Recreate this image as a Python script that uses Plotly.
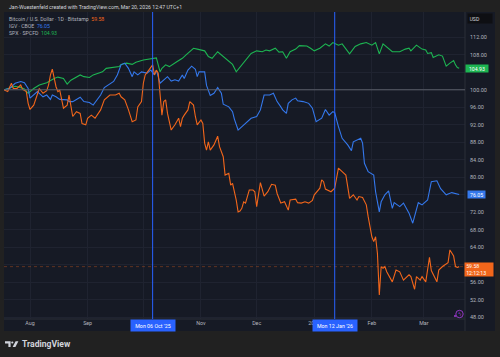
import plotly.graph_objects as go

# ---------------- data (indexed to 100 at first bar) ----------------
btc_dates = ["2025-07-18","2025-07-20","2025-07-22","2025-07-23","2025-07-25","2025-07-27","2025-07-28","2025-07-30","2025-07-31",
 "2025-08-01","2025-08-03","2025-08-05","2025-08-06","2025-08-08","2025-08-10","2025-08-11","2025-08-12","2025-08-13","2025-08-14",
 "2025-08-15","2025-08-16","2025-08-17","2025-08-19","2025-08-21","2025-08-22","2025-08-23","2025-08-24","2025-08-26","2025-08-28",
 "2025-08-29","2025-08-31","2025-09-01","2025-09-03","2025-09-05","2025-09-07","2025-09-08","2025-09-10","2025-09-13","2025-09-16",
 "2025-09-18","2025-09-19","2025-09-21","2025-09-23","2025-09-25","2025-09-27","2025-09-28","2025-09-30","2025-10-01","2025-10-02",
 "2025-10-04","2025-10-05","2025-10-06","2025-10-07","2025-10-08","2025-10-09","2025-10-10","2025-10-11","2025-10-12","2025-10-13",
 "2025-10-14","2025-10-16","2025-10-18","2025-10-20","2025-10-21","2025-10-22","2025-10-23","2025-10-25","2025-10-26","2025-10-28",
 "2025-10-29","2025-10-30","2025-11-01","2025-11-02","2025-11-03","2025-11-04","2025-11-05","2025-11-06","2025-11-08","2025-11-10",
 "2025-11-11","2025-11-13","2025-11-14","2025-11-16","2025-11-17","2025-11-18","2025-11-20","2025-11-21","2025-11-22","2025-11-23",
 "2025-11-24","2025-11-25","2025-11-27","2025-11-29","2025-11-30","2025-12-01","2025-12-03","2025-12-05","2025-12-07","2025-12-09",
 "2025-12-11","2025-12-12","2025-12-14","2025-12-16","2025-12-18","2025-12-19","2025-12-22","2025-12-23","2025-12-25","2025-12-27",
 "2025-12-29","2025-12-31","2026-01-01","2026-01-04","2026-01-05","2026-01-06","2026-01-07","2026-01-10","2026-01-12","2026-01-13",
 "2026-01-14","2026-01-16","2026-01-18","2026-01-20","2026-01-22","2026-01-24","2026-01-25","2026-01-27","2026-01-29","2026-01-30",
 "2026-02-01","2026-02-02","2026-02-03","2026-02-04","2026-02-05","2026-02-06","2026-02-07","2026-02-08","2026-02-09","2026-02-12",
 "2026-02-13","2026-02-14","2026-02-16","2026-02-18","2026-02-21","2026-02-22","2026-02-24","2026-02-25","2026-02-27","2026-02-28",
 "2026-03-02","2026-03-03","2026-03-04","2026-03-05","2026-03-08","2026-03-09","2026-03-11","2026-03-14","2026-03-15","2026-03-17",
 "2026-03-18","2026-03-19","2026-03-20"]
btc_vals = [100.0,99.6,101.5,100.3,100.3,101.1,100.1,99.6,96.9,
 95.5,96.5,99.2,100.3,99.2,99.8,101.1,103.4,104.7,102.6,
 100.7,99.6,99.9,95.8,96.5,98.8,96.1,93.9,95.0,94.6,
 92.3,92.0,93.5,94.2,93.5,94.6,95.4,97.7,98.8,98.8,
 99.2,98.4,97.7,95.4,92.7,93.1,96.1,97.3,101.5,103.4,
 104.5,104.9,105.7,103.4,104.5,103.8,98.8,94.2,97.3,97.7,
 94.6,90.8,92.0,93.5,91.6,93.5,94.2,95.4,97.3,96.5,
 93.9,92.0,93.1,92.3,87.8,86.2,88.1,86.2,87.4,89.4,
 87.0,84.7,80.5,80.9,78.2,78.6,74.8,72.1,72.3,72.9,
 74.4,74.1,77.1,77.1,76.7,73.3,78.8,75.7,76.7,78.4,
 78.2,76.3,74.1,74.4,72.5,74.8,75.0,74.2,74.1,74.4,
 74.1,74.7,76.0,77.5,79.4,79.0,77.3,76.7,77.5,80.1,
 82.1,81.3,80.5,75.2,76.0,74.8,75.6,75.4,73.7,71.0,
 66.4,65.3,66.4,62.6,53.1,59.6,59.2,59.6,58.4,56.1,
 57.7,58.8,58.4,56.5,57.7,57.3,54.4,57.3,56.5,57.3,
 56.1,58.8,61.7,58.7,56.1,58.8,59.6,60.5,63.4,62.0,
 59.6,59.4,59.58]

igv_dates = ["2025-07-18","2025-07-21","2025-07-24","2025-07-27","2025-07-29","2025-07-31","2025-08-01","2025-08-03","2025-08-05",
 "2025-08-06","2025-08-08","2025-08-10","2025-08-12","2025-08-13","2025-08-15","2025-08-17","2025-08-19","2025-08-21","2025-08-22",
 "2025-08-24","2025-08-26","2025-08-28","2025-08-30","2025-09-02","2025-09-04","2025-09-06","2025-09-08","2025-09-10","2025-09-12",
 "2025-09-15","2025-09-17","2025-09-19","2025-09-21","2025-09-23","2025-09-25","2025-09-26","2025-09-28","2025-09-30","2025-10-03",
 "2025-10-05","2025-10-07","2025-10-08","2025-10-10","2025-10-12","2025-10-14","2025-10-16","2025-10-18","2025-10-20","2025-10-22",
 "2025-10-23","2025-10-25","2025-10-27","2025-10-29","2025-10-30","2025-10-31","2025-11-03","2025-11-04","2025-11-06","2025-11-08",
 "2025-11-10","2025-11-12","2025-11-13","2025-11-16","2025-11-18","2025-11-19","2025-11-21","2025-11-23","2025-11-26","2025-11-28",
 "2025-12-01","2025-12-03","2025-12-05","2025-12-08","2025-12-10","2025-12-12","2025-12-14","2025-12-15","2025-12-17","2025-12-18",
 "2025-12-20","2025-12-22","2025-12-23","2025-12-26","2025-12-29","2025-12-31","2026-01-02","2026-01-05","2026-01-07","2026-01-09",
 "2026-01-11","2026-01-12","2026-01-14","2026-01-16","2026-01-19","2026-01-21","2026-01-22","2026-01-26","2026-01-27","2026-01-28",
 "2026-01-30","2026-02-02","2026-02-03","2026-02-05","2026-02-06","2026-02-08","2026-02-10","2026-02-12","2026-02-13","2026-02-16",
 "2026-02-18","2026-02-21","2026-02-23","2026-02-26","2026-02-28","2026-03-03","2026-03-05","2026-03-08","2026-03-10","2026-03-13",
 "2026-03-16","2026-03-18","2026-03-20"]
igv_vals = [100.0,100.3,101.5,101.9,101.6,100.3,98.1,98.8,99.6,
 99.2,98.4,98.8,97.8,98.8,98.4,97.8,97.7,97.7,97.3,
 97.3,97.8,98.3,97.3,97.1,96.5,97.7,98.8,100.5,101.1,
 101.9,103.4,105.7,106.1,104.9,103.0,104.1,103.4,104.1,103.8,
 104.5,103.4,104.5,101.5,102.2,103.0,102.0,102.3,102.0,103.4,
 102.6,104.5,105.4,104.7,103.0,104.1,104.1,101.0,98.7,99.2,
 100.5,99.2,96.7,96.1,95.0,93.3,90.8,91.6,92.7,93.5,
 93.9,95.4,98.8,98.8,99.2,97.3,96.1,95.4,94.6,96.9,
 97.7,98.1,97.5,97.3,96.9,95.8,92.7,93.5,95.5,94.2,
 95.0,94.8,91.6,88.9,87.4,86.1,88.1,88.9,87.8,83.2,
 81.3,80.5,76.7,72.1,74.4,76.0,76.9,72.9,74.2,73.3,
 74.1,71.8,69.5,74.2,73.7,74.8,79.0,79.2,77.4,76.0,
 76.5,76.2,76.05]

spx_dates = ["2025-07-18","2025-07-20","2025-07-22","2025-07-24","2025-07-27","2025-07-29","2025-07-31","2025-08-03","2025-08-06",
 "2025-08-10","2025-08-14","2025-08-16","2025-08-19","2025-08-21","2025-08-23","2025-08-28","2025-08-30","2025-09-02","2025-09-04",
 "2025-09-09","2025-09-11","2025-09-15","2025-09-18","2025-09-19","2025-09-22","2025-09-25","2025-09-27","2025-10-01","2025-10-05",
 "2025-10-08","2025-10-10","2025-10-11","2025-10-13","2025-10-15","2025-10-19","2025-10-22","2025-10-24","2025-10-28","2025-10-30",
 "2025-11-03","2025-11-05","2025-11-07","2025-11-10","2025-11-13","2025-11-16","2025-11-18","2025-11-20","2025-11-23","2025-11-26",
 "2025-11-28","2025-12-01","2025-12-04","2025-12-06","2025-12-08","2025-12-11","2025-12-13","2025-12-15","2025-12-17","2025-12-19",
 "2025-12-22","2025-12-24","2025-12-28","2025-12-30","2026-01-01","2026-01-04","2026-01-07","2026-01-09","2026-01-11","2026-01-14",
 "2026-01-16","2026-01-20","2026-01-23","2026-01-26","2026-01-29","2026-02-01","2026-02-03","2026-02-05","2026-02-07","2026-02-12",
 "2026-02-16","2026-02-19","2026-02-21","2026-02-22","2026-02-25","2026-02-28","2026-03-02","2026-03-03","2026-03-05","2026-03-06",
 "2026-03-09","2026-03-11","2026-03-13","2026-03-15","2026-03-17","2026-03-18","2026-03-19","2026-03-20"]
spx_vals = [100.0,100.3,100.6,100.8,100.5,100.2,99.2,100.3,101.1,
 101.6,102.6,102.9,102.6,101.3,102.2,103.4,103.0,102.8,103.4,
 104.1,104.9,105.1,105.3,105.8,106.1,105.8,106.3,106.8,107.0,
 107.3,104.1,104.9,105.7,105.3,106.4,107.2,108.0,109.5,109.3,
 108.9,107.6,107.2,108.7,107.6,106.4,105.8,104.1,105.7,107.2,
 108.3,108.9,108.7,109.1,108.9,109.5,108.6,108.7,107.2,108.7,
 109.3,110.1,110.0,109.5,108.9,109.5,110.5,110.0,110.8,110.2,
 110.5,108.2,109.9,110.5,110.8,110.2,110.8,108.2,110.5,108.7,
 108.7,109.3,109.5,108.9,110.2,109.3,109.1,108.3,108.5,107.4,
 108.0,107.7,105.4,106.1,106.7,105.7,105.1,104.93]

series_names = ["Bitcoin / U.S. Dollar · 1D · Bitstamp", "IGV · CBOE", "SPX · SPCFD"]
price_ticks = [48, 52, 56, 60, 64, 68, 72, 76, 80, 84, 88, 92, 96, 100, 104, 108, 112]
price_tick_labels = ["48.00", "52.00", "56.00", "", "64.00", "68.00", "72.00", "", "80.00", "84.00", "88.00",
                     "92.00", "96.00", "100.00", "", "108.00", "112.00"]
month_ticks = ["2025-08-01","2025-09-01","2025-10-01","2025-11-01","2025-12-01","2026-01-01","2026-02-01","2026-03-01"]
month_labels = ["Aug","Sep","","Nov","Dec","2026","Feb","Mar"]
marker_dates = ["2025-10-06", "2026-01-12"]
marker_labels = ["Mon 06 Oct '25", "Mon 12 Jan '26"]
btc_countdown = "12:12:13"
header_text = "Jan-Wuestenfeld created with TradingView.com, Mar 20, 2026 12:47 UTC+1"

# ---------------- style ----------------
ORANGE = "#F2661B"
BLUE = "#3478EC"
GREEN = "#1DB552"
PANEL = "#161A25"
OUTER = "#212121"
GRID = "#1F2330"
TXT = "#B2B5BE"
FONT = "Roboto"

W, H = 500, 357
ML, MR, MT, MB = 4, 35, 12, 38
PW = W - ML - MR
PH = H - MT - MB

def px(x):
    return (x - ML) / PW

def py(y):
    return (H - MB - y) / PH

fig = go.Figure()
fig.add_trace(go.Scatter(x=spx_dates, y=spx_vals, mode="lines", line=dict(color=GREEN, width=1.1), hoverinfo="skip"))
fig.add_trace(go.Scatter(x=igv_dates, y=igv_vals, mode="lines", line=dict(color=BLUE, width=1.1), hoverinfo="skip"))
fig.add_trace(go.Scatter(x=btc_dates, y=btc_vals, mode="lines", line=dict(color=ORANGE, width=1.1), hoverinfo="skip"))

shapes = []
shapes.append(dict(type="rect", xref="paper", yref="paper", x0=px(4), x1=px(495), y0=py(331), y1=py(12),
                   fillcolor=PANEL, line=dict(width=0), layer="below"))
shapes.append(dict(type="line", xref="paper", yref="paper", x0=1, x1=1, y0=py(331), y1=py(12),
                   line=dict(color="#2A2E39", width=1)))
shapes.append(dict(type="line", xref="paper", yref="paper", x0=0, x1=1, y0=0, y1=0,
                   line=dict(color="#2A2E39", width=1)))
shapes.append(dict(type="line", xref="paper", yref="y", x0=0, x1=1, y0=100, y1=100,
                   line=dict(color="#5D606B", width=1)))
shapes.append(dict(type="line", xref="paper", yref="y", x0=0, x1=1, y0=btc_vals[-1], y1=btc_vals[-1],
                   line=dict(color="rgba(242,102,27,0.33)", width=1, dash="dot")))
for d in marker_dates:
    shapes.append(dict(type="line", xref="x", yref="paper", x0=d, x1=d, y0=0, y1=1,
                       line=dict(color="#2962FF", width=1)))
shapes.append(dict(type="circle", xref="paper", yref="paper", x0=px(455.8), x1=px(463.2), y0=py(317.7), y1=py(310.3),
                   line=dict(color="#A23BD6", width=0.9)))
shapes.append(dict(type="circle", xref="paper", yref="paper", x0=px(454), x1=px(456), y0=py(317), y1=py(315),
                   fillcolor="#A23BD6", line=dict(width=0)))

def P(x, y):
    return f"{px(x)},{py(y)}"

shapes.append(dict(type="path", xref="paper", yref="paper",
                   path=f"M{P(5,341.3)} L{P(10.6,341.3)} L{P(10.6,347)} L{P(8.4,347)} L{P(8.4,343.6)} L{P(5,343.6)} Z",
                   fillcolor="#D1D4DC", line=dict(width=0)))
shapes.append(dict(type="circle", xref="paper", yref="paper", x0=px(11.2), x1=px(13.4), y0=py(343.6), y1=py(341.4),
                   fillcolor="#D1D4DC", line=dict(width=0)))
shapes.append(dict(type="path", xref="paper", yref="paper",
                   path=f"M{P(15.6,341.3)} L{P(18.4,341.3)} L{P(15.4,347)} L{P(12.6,347)} Z",
                   fillcolor="#D1D4DC", line=dict(width=0)))

ann = []
ann.append(dict(text=header_text, x=px(6.5), y=py(7), xref="paper", yref="paper", xanchor="left", yanchor="middle",
                showarrow=False, font=dict(family=FONT, size=5.2, color="#D1D4DC")))
leg_vals = [btc_vals[-1], igv_vals[-1], spx_vals[-1]]
leg_cols = [ORANGE, BLUE, GREEN]
leg_y = [19, 25.8, 32.6]
for name, v, c, yy in zip(series_names, leg_vals, leg_cols, leg_y):
    ann.append(dict(text=f"{name}  <span style='color:{c}'>{v:.2f}</span>", x=px(7), y=py(yy),
                    xref="paper", yref="paper", xanchor="left", yanchor="middle", showarrow=False,
                    font=dict(family=FONT, size=5.2, color=TXT)))
ann.append(dict(text="USD", x=px(480), y=py(18.7), xref="paper", yref="paper", xanchor="center", yanchor="middle",
                showarrow=False, width=21, height=6, align="left", bgcolor="#0E0F13", borderpad=1.5,
                font=dict(family=FONT, size=5.2, color="#D1D4DC")))
ann.append(dict(text=f"{spx_vals[-1]:.2f}", x=px(477.3), y=spx_vals[-1], xref="paper", yref="y",
                xanchor="center", yanchor="middle", showarrow=False, width=20, height=5.5, borderpad=0.9,
                bgcolor=GREEN, font=dict(family=FONT, size=5.2, color="#FFFFFF")))
ann.append(dict(text=f"{igv_vals[-1]:.2f}", x=px(476.7), y=igv_vals[-1], xref="paper", yref="y",
                xanchor="center", yanchor="middle", showarrow=False, width=15.5, height=5.2, borderpad=0.9,
                bgcolor=BLUE, font=dict(family=FONT, size=5.2, color="#FFFFFF")))
ann.append(dict(text=f"{btc_vals[-1]:.2f}<br>{btc_countdown}", x=px(478.7), y=py(262.3), xref="paper", yref="paper",
                xanchor="center", yanchor="top", showarrow=False, width=26, height=11, borderpad=1.2, align="left",
                bgcolor=ORANGE, font=dict(family=FONT, size=5.2, color="#FFFFFF")))
for d, lab in zip(marker_dates, marker_labels):
    ann.append(dict(text=lab, x=d, y=py(325.5), xref="x", yref="paper", xanchor="center", yanchor="middle",
                    showarrow=False, width=40, height=7, borderpad=2, bgcolor="#2962FF",
                    font=dict(family=FONT, size=5.3, color="#FFFFFF")))
ann.append(dict(text="ϟ", x=px(459.5), y=py(314), xref="paper", yref="paper", xanchor="center", yanchor="middle",
                showarrow=False, font=dict(family="DejaVu Sans", size=5.5, color="#A23BD6")))
ann.append(dict(text="<b>TradingView</b>", x=px(20), y=py(344.3), xref="paper", yref="paper", xanchor="left",
                yanchor="middle", showarrow=False, font=dict(family=FONT, size=8.6, color="#D1D4DC")))

fig.update_layout(
    width=W, height=H, margin=dict(l=ML, r=MR, t=MT, b=MB, autoexpand=False),
    paper_bgcolor=OUTER, plot_bgcolor=PANEL, showlegend=False,
    shapes=shapes, annotations=ann,
    xaxis=dict(range=["2025-07-18", "2026-03-23 03:00"], tickvals=month_ticks, ticktext=month_labels,
               showgrid=True, gridcolor=GRID, gridwidth=1, zeroline=False, showline=False, ticks="",
               automargin=False, tickfont=dict(family=FONT, size=5.3, color=TXT), fixedrange=True),
    yaxis=dict(range=[47.61, 117.78], side="right", tickvals=price_ticks,
               ticktext=price_tick_labels, showgrid=True, gridcolor=GRID, gridwidth=1,
               zeroline=False, showline=False, ticks="", ticklabelstandoff=4, automargin=False,
               tickfont=dict(family=FONT, size=5.5, color=TXT), fixedrange=True),
)

fig.write_html("out.html", config={"displayModeBar": False},
               post_script="document.body.style.margin='0';document.body.style.background='" + OUTER + "';")
